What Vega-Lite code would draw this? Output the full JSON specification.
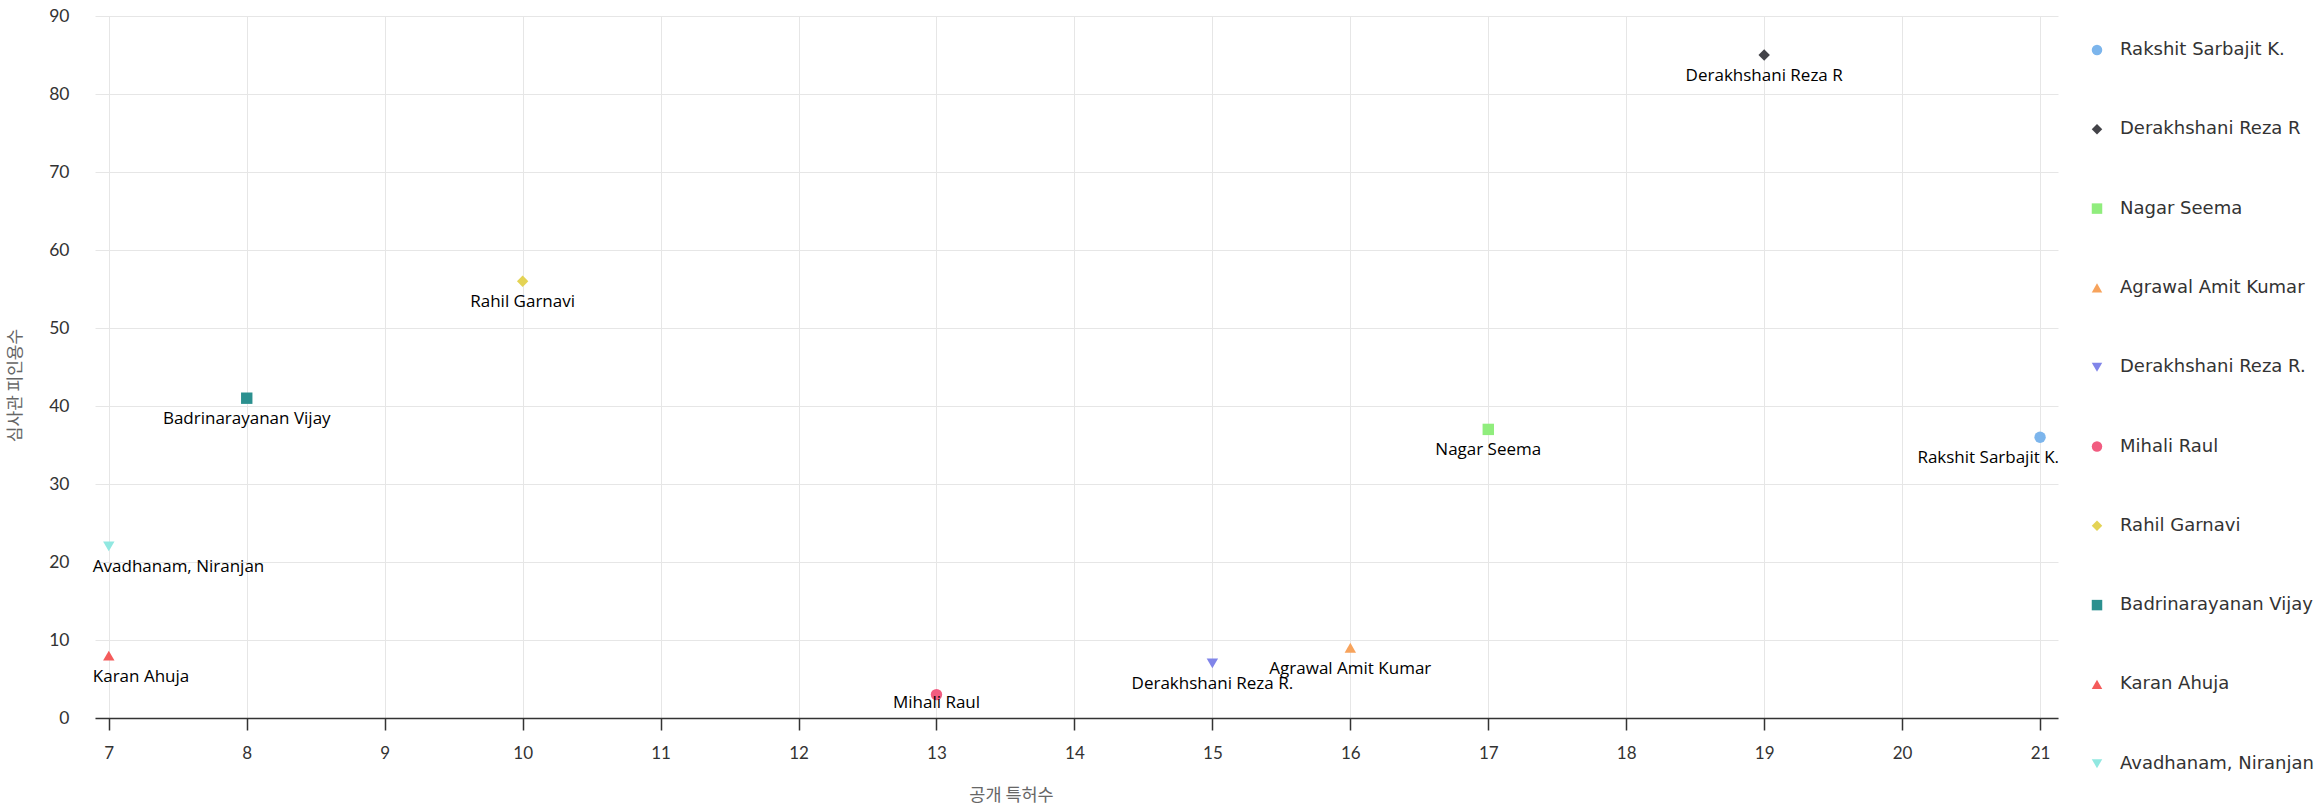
{
  "$schema": "https://vega.github.io/schema/vega-lite/v6.json",
  "width": 1963,
  "height": 702,
  "autosize": {"type": "none"},
  "padding": {"left": 95, "top": 16, "right": 262, "bottom": 89},
  "background": "white",
  "config": {
    "view": {"stroke": null},
    "font": "Lato"
  },
  "data": {
    "values": [
      {"name": "Rakshit Sarbajit K.", "patents": 21, "citations": 36},
      {"name": "Derakhshani Reza R", "patents": 19, "citations": 85},
      {"name": "Nagar Seema", "patents": 17, "citations": 37},
      {"name": "Agrawal Amit Kumar", "patents": 16, "citations": 9},
      {"name": "Derakhshani Reza R.", "patents": 15, "citations": 7},
      {"name": "Mihali Raul", "patents": 13, "citations": 3},
      {"name": "Rahil Garnavi", "patents": 10, "citations": 56},
      {"name": "Badrinarayanan Vijay", "patents": 8, "citations": 41},
      {"name": "Karan Ahuja", "patents": 7, "citations": 8},
      {"name": "Avadhanam, Niranjan", "patents": 7, "citations": 22}
    ]
  },
  "encoding": {
    "x": {
      "field": "patents", "type": "quantitative",
      "scale": {"domain": [6.9, 21.13], "nice": false, "zero": false},
      "axis": {
        "title": "공개 특허수", "values": [7,8,9,10,11,12,13,14,15,16,17,18,19,20,21],
        "titleFont": "Noto Sans CJK KR", "titleFontSize": 17.5, "titleFontWeight": "normal", "titleColor": "#666666",
        "titlePadding": 25, "titleX": 916,
        "labelFontSize": 17, "labelColor": "#333333", "labelPadding": 15,
        "domainColor": "#333333", "domainWidth": 1.5, "tickColor": "#333333", "tickSize": 12, "tickWidth": 1.5,
        "gridColor": "#e6e6e6", "grid": true
      }
    },
    "y": {
      "field": "citations", "type": "quantitative",
      "scale": {"domain": [0, 90], "nice": false},
      "axis": {
        "title": "심사관 피인용수", "values": [0,10,20,30,40,50,60,70,80,90],
        "titleFont": "Noto Sans CJK KR", "titleFontSize": 17, "titleFontWeight": "normal", "titleColor": "#666666",
        "titlePadding": 24, "titleY": 369,
        "labelFontSize": 17.5, "labelColor": "#333333", "labelPadding": 26,
        "domain": false, "ticks": false,
        "gridColor": "#e6e6e6", "grid": true
      }
    }
  },
  "layer": [
    {
      "mark": {"type": "point", "filled": true, "opacity": 1, "size": 130},
      "encoding": {
        "color": {
          "field": "name", "type": "nominal",
          "scale": {
            "domain": ["Rakshit Sarbajit K.", "Derakhshani Reza R", "Nagar Seema", "Agrawal Amit Kumar", "Derakhshani Reza R.", "Mihali Raul", "Rahil Garnavi", "Badrinarayanan Vijay", "Karan Ahuja", "Avadhanam, Niranjan"],
            "range": ["#7cb5ec", "#434348", "#90ed7d", "#f7a35c", "#8085e9", "#f15c80", "#e4d354", "#2b908f", "#f45b5b", "#91e8e1"]
          },
          "legend": {
            "title": null, "orient": "none", "legendX": 1993, "legendY": 25,
            "labelFontSize": 18, "labelColor": "#333333", "labelFont": "DejaVu Sans", "labelFontWeight": "normal",
            "rowPadding": 61.3, "symbolSize": 110, "labelOffset": 14, "labelLimit": 300
          }
        },
        "shape": {
          "field": "name", "type": "nominal",
          "scale": {
            "domain": ["Rakshit Sarbajit K.", "Derakhshani Reza R", "Nagar Seema", "Agrawal Amit Kumar", "Derakhshani Reza R.", "Mihali Raul", "Rahil Garnavi", "Badrinarayanan Vijay", "Karan Ahuja", "Avadhanam, Niranjan"],
            "range": ["circle", "diamond", "square", "triangle-up", "triangle-down", "circle", "diamond", "square", "triangle-up", "triangle-down"]
          }
        }
      }
    },
    {
      "transform": [{"filter": "datum.patents > 7 && datum.patents < 21 && datum.citations >= 5"}],
      "mark": {"type": "text", "dy": 21, "fontSize": 17, "color": "#000000", "font": "Open Sans"},
      "encoding": {"text": {"field": "name"}}
    },
    {
      "transform": [{"filter": "datum.citations < 5"}],
      "mark": {"type": "text", "dy": 8, "fontSize": 17, "color": "#000000", "font": "Open Sans"},
      "encoding": {"text": {"field": "name"}}
    },
    {
      "transform": [{"filter": "datum.patents == 7"}],
      "mark": {"type": "text", "dy": 21, "dx": -16, "align": "left", "fontSize": 17, "color": "#000000", "font": "Open Sans"},
      "encoding": {"text": {"field": "name"}}
    },
    {
      "transform": [{"filter": "datum.patents == 21"}],
      "mark": {"type": "text", "dy": 21, "dx": 19, "align": "right", "fontSize": 17, "color": "#000000", "font": "Open Sans"},
      "encoding": {"text": {"field": "name"}}
    }
  ]
}
